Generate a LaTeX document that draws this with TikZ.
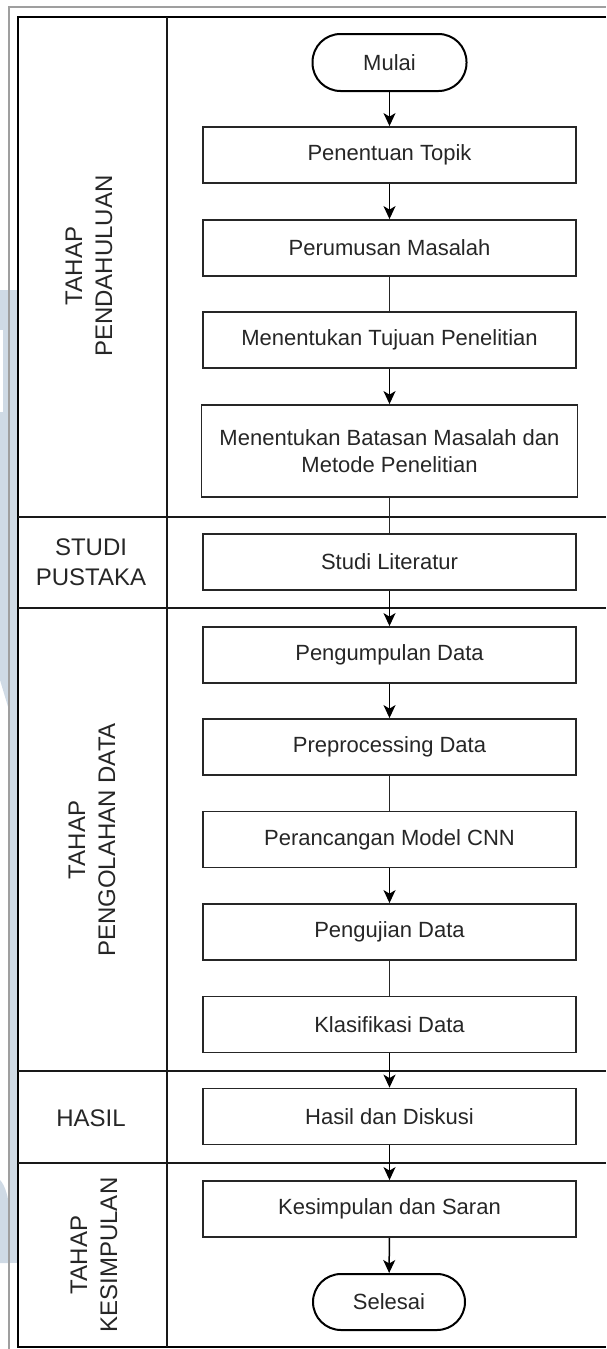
\documentclass[tikz,border=0pt]{standalone}
\usepackage{fontspec}
\setmainfont{Liberation Sans}
\usetikzlibrary{arrows.meta}
\definecolor{txt}{HTML}{262626}
\definecolor{boxline}{HTML}{262626}
\definecolor{wm}{HTML}{CFDAE5}
\begin{document}
\begin{tikzpicture}[x=1pt,y=-1pt,
  box/.style={draw=boxline, line width=1.8pt, minimum width=373pt, minimum height=56pt,
    inner sep=0pt, align=center, font=\fontsize{22}{27}\selectfont, text=txt},
  term/.style={draw=black, line width=2pt, rounded corners=28pt, minimum width=154pt,
    minimum height=57pt, inner sep=0pt, font=\fontsize{22}{27}\selectfont, text=txt},
  arr/.style={draw=black, line width=1.5pt, -{Stealth[length=13pt,width=12pt,inset=3.5pt]}},
  con/.style={draw=black!85, line width=1.5pt},
  lane/.style={font=\fontsize{24}{30}\selectfont, align=center, text=txt, inner sep=0pt},
  frame/.style={draw=black, line width=2pt},
  laneline/.style={draw=black!90, line width=1.5pt},
]
\useasboundingbox (0,0) rectangle (606,1349);
% watermark
\fill[wm] (0,290) -- (9,290) -- (9,710) -- (0,680) -- cycle;
\fill[white] (0,330) rectangle (3,412);
\fill[wm] (9,290) rectangle (18,1263);
\fill[wm] (0,1180) .. controls (5,1185) and (9,1198) .. (9,1210) -- (9,1263) -- (0,1263) -- cycle;
% outer gray lines
\draw[gray!75, line width=2pt] (9,1349) -- (9,7) -- (606,7);
% frame
\draw[frame] (606,17) -- (18,17) -- (18,1347) -- (606,1347);
\draw[laneline] (167,17) -- (167,1347);
\draw[laneline] (18,517) -- (606,517);
\draw[laneline] (18,608) -- (606,608);
\draw[laneline] (18,1071) -- (606,1071);
\draw[laneline] (18,1163) -- (606,1163);
% lane labels
\node[lane, rotate=90] (l1) at (89,266) {TAHAP\\PENDAHULUAN};
\node[lane] (l2) at (91,562) {STUDI\\PUSTAKA};
\node[lane, rotate=90] (l3) at (92,840) {TAHAP\\PENGOLAHAN DATA};
\node[lane] (l4) at (91,1118) {HASIL};
\node[lane, rotate=90] (l5) at (94,1255) {TAHAP\\KESIMPULAN};
% flow
\node[term] (mulai) at (389.5,62.5) {Mulai};
\node[box] (topik) at (389.5,155) {Penentuan Topik};
\node[box] (rumus) at (389.5,248) {Perumusan Masalah};
\node[box] (tujuan) at (389.5,340) {Menentukan Tujuan Penelitian};
\node[box, minimum width=376pt, minimum height=92pt] (batasan) at (389.5,451) {Menentukan Batasan Masalah dan\\Metode Penelitian};
\node[box] (studi) at (389.5,562) {Studi Literatur};
\node[box] (kumpul) at (389.5,655) {Pengumpulan Data};
\node[box] (prep) at (389.5,747) {Preprocessing Data};
\node[box] (cnn) at (389.5,839.5) {Perancangan Model CNN};
\node[box] (uji) at (389.5,932) {Pengujian Data};
\node[box] (klas) at (389.5,1024.5) {Klasifikasi Data};
\node[box] (hasil) at (389.5,1116.5) {Hasil dan Diskusi};
\node[box] (simpul) at (389.5,1209) {Kesimpulan dan Saran};
\node[term, minimum width=152pt, minimum height=56pt] (selesai) at (389,1302) {Selesai};
% connectors
\draw[arr] (mulai) -- (topik);
\draw[arr] (topik) -- (rumus);
\draw[con] (rumus) -- (tujuan);
\draw[arr] (tujuan) -- (batasan);
\draw[con] (batasan) -- (studi);
\draw[arr] (studi) -- (kumpul);
\draw[arr] (kumpul) -- (prep);
\draw[con] (prep) -- (cnn);
\draw[arr] (cnn) -- (uji);
\draw[con] (uji) -- (klas);
\draw[arr] (klas) -- (hasil);
\draw[arr] (hasil) -- (simpul);
\draw[arr] (simpul) -- (selesai);
\end{tikzpicture}
\end{document}
